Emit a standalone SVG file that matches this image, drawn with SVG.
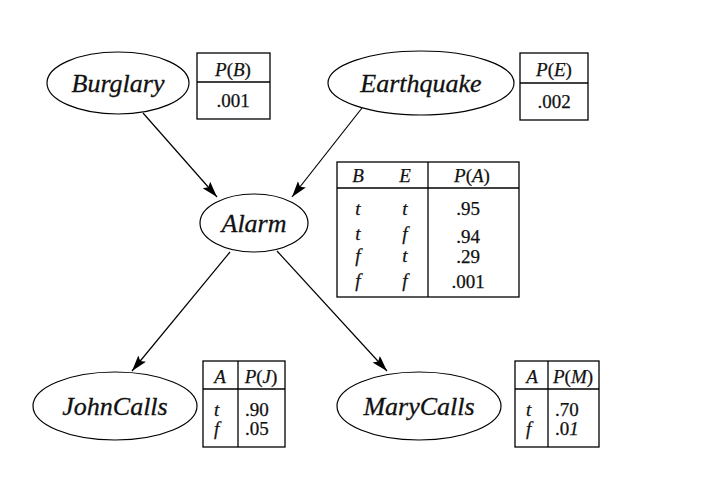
<svg xmlns="http://www.w3.org/2000/svg" width="728" height="504" viewBox="0 0 728 504">
<style>
.node{fill:#fff;stroke:#000;stroke-width:1.2}
.lbl{font-family:'Liberation Serif', 'Times New Roman', 'DejaVu Serif', serif;font-style:italic;font-size:26px;text-anchor:middle;fill:#111;stroke:#111;stroke-width:0.3}
.tb{fill:#fff;stroke:#000;stroke-width:1.3}
.ln{stroke:#000;stroke-width:1.3;fill:none}
.t{font-family:'Liberation Serif', 'Times New Roman', 'DejaVu Serif', serif;font-size:19px;fill:#111;stroke:#111;stroke-width:0.25}
.c{text-anchor:middle}
.i{font-style:italic}
.edge{stroke:#000;stroke-width:1.2;fill:none;marker-end:url(#arr)}
</style>
<defs>
<marker id="arr" markerUnits="userSpaceOnUse" markerWidth="18" markerHeight="12" refX="16" refY="5" orient="auto">
<path d="M0,0 L16,5 L0,10 L3,5 Z" fill="#000"/>
</marker>
</defs>
<rect width="728" height="504" fill="#fff"/>
<g id="connectors">
<line class="edge" x1="143" y1="113" x2="217" y2="197"/>
<line class="edge" x1="362" y1="108" x2="292" y2="197"/>
<line class="edge" x1="230" y1="252" x2="132" y2="371"/>
<line class="edge" x1="277" y1="251" x2="387" y2="371"/>
</g>
<g id="burglary">
<ellipse class="node" cx="118" cy="83" rx="71" ry="31"/>
<text class="lbl" x="118" y="92">Burglary</text>
</g>
<g id="table-b">
<rect class="tb" x="197" y="53" width="73" height="66"/>
<line class="ln" x1="197" y1="82" x2="270" y2="82"/>
<text class="t c" x="233" y="76"><tspan class="i">P</tspan>(<tspan class="i">B</tspan>)</text>
<text class="t c" x="233" y="107">.001</text>
</g>
<g id="earthquake">
<ellipse class="node" cx="421" cy="83" rx="93" ry="32"/>
<text class="lbl" x="421" y="92">Earthquake</text>
</g>
<g id="table-e">
<rect class="tb" x="520" y="53" width="68" height="67"/>
<line class="ln" x1="520" y1="83" x2="588" y2="83"/>
<text class="t c" x="554" y="76"><tspan class="i">P</tspan>(<tspan class="i">E</tspan>)</text>
<text class="t c" x="554" y="108">.002</text>
</g>
<g id="alarm">
<ellipse class="node" cx="254" cy="223" rx="54" ry="29"/>
<text class="lbl" x="254" y="232">Alarm</text>
</g>
<g id="table-a">
<rect class="tb" x="337" y="162" width="182" height="135"/>
<line class="ln" x1="337" y1="188" x2="519" y2="188"/>
<line class="ln" x1="428" y1="162" x2="428" y2="297"/>
<text class="t c i" x="358" y="182">B</text>
<text class="t c i" x="405" y="182">E</text>
<text class="t c" x="472" y="182"><tspan class="i">P</tspan>(<tspan class="i">A</tspan>)</text>
<text class="t c i" x="358" y="215">t</text>
<text class="t c i" x="405" y="215">t</text>
<text class="t c" x="468" y="215">.95</text>
<text class="t c i" x="358" y="240">t</text>
<text class="t c i" x="405" y="240">f</text>
<text class="t c" x="468" y="243">.94</text>
<text class="t c i" x="358" y="262">f</text>
<text class="t c i" x="405" y="262">t</text>
<text class="t c" x="468" y="263">.29</text>
<text class="t c i" x="358" y="287">f</text>
<text class="t c i" x="405" y="287">f</text>
<text class="t c" x="468" y="288">.001</text>
</g>
<g id="johncalls">
<ellipse class="node" cx="115" cy="406" rx="82" ry="34"/>
<text class="lbl" x="115" y="415">JohnCalls</text>
</g>
<g id="table-j">
<rect class="tb" x="203" y="361" width="82" height="86"/>
<line class="ln" x1="203" y1="389" x2="285" y2="389"/>
<line class="ln" x1="238" y1="361" x2="238" y2="447"/>
<text class="t c i" x="220" y="383">A</text>
<text class="t c" x="261" y="383"><tspan class="i">P</tspan>(<tspan class="i">J</tspan>)</text>
<text class="t i" x="214" y="416">t</text>
<text class="t i" x="214" y="435">f</text>
<text class="t" x="245" y="416">.90</text>
<text class="t" x="245" y="435">.05</text>
</g>
<g id="marycalls">
<ellipse class="node" cx="419" cy="406" rx="82" ry="34"/>
<text class="lbl" x="419" y="415">MaryCalls</text>
</g>
<g id="table-m">
<rect class="tb" x="515" y="361" width="84" height="86"/>
<line class="ln" x1="515" y1="389" x2="599" y2="389"/>
<line class="ln" x1="548" y1="361" x2="548" y2="447"/>
<text class="t c i" x="532" y="383">A</text>
<text class="t c" x="573" y="383"><tspan class="i">P</tspan>(<tspan class="i">M</tspan>)</text>
<text class="t i" x="526" y="416">t</text>
<text class="t i" x="526" y="435">f</text>
<text class="t" x="555" y="416">.70</text>
<text class="t" x="555" y="435">.0<tspan class="i">1</tspan></text>
</g>
</svg>
